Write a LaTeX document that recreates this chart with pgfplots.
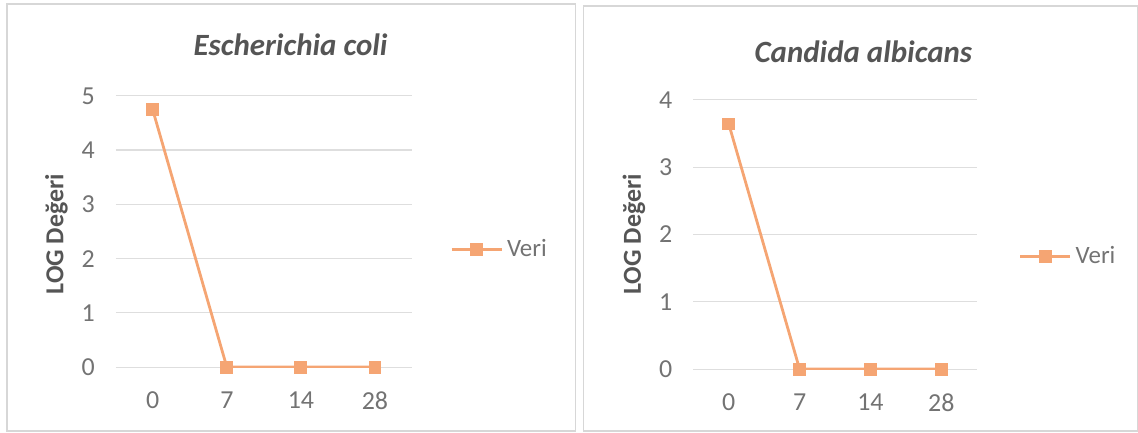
\documentclass[border=0pt]{standalone}
\usepackage{pgfplots}
\pgfplotsset{compat=1.18}
\usepackage{fontspec}
\setmainfont{Carlito}

\definecolor{veri}{RGB}{245,165,115}
\definecolor{txt}{RGB}{115,115,115}
\definecolor{ttl}{RGB}{85,85,85}
\definecolor{gridc}{RGB}{222,222,222}
\definecolor{frame}{RGB}{215,215,215}

\pgfplotsset{
  panel/.style={
    scale only axis,
    anchor=south west,
    xmin=-0.5, xmax=3.5,
    ymin=0,
    axis line style={draw=none},
    axis x line*=bottom,
    tick style={draw=none},
    xtick={0,1,2,3},
    xticklabels={0,7,14,28},
    ytick distance=1,
    ymajorgrids,
    grid style={gridc, line width=0.6pt},
    ticklabel style={font=\fontsize{13}{15}\selectfont, text=txt},
    /pgf/number format/assume math mode=true,
    xticklabel style={yshift=-9pt},
    yticklabel style={xshift=-7pt},
    title style={font=\fontsize{15.5}{17}\selectfont\bfseries\itshape, text=ttl},
    ylabel={LOG Değeri},
    ylabel style={font=\fontsize{13}{15}\selectfont\bfseries, text=ttl, anchor=center},
    legend style={draw=none, fill=none, font=\fontsize{12.5}{14}\selectfont, text=txt,
      anchor=west, inner sep=0pt},
    legend cell align=left,
    legend image code/.code={
      \draw[mark repeat=2, mark phase=2, #1] plot coordinates {(0pt,0pt) (12.5pt,0pt) (25pt,0pt)};
    },
  },
  veriline/.style={veri, line width=1.4pt, mark=square*, mark size=3pt,
    mark options={fill=veri, draw=veri, line width=0pt}},
}

\begin{document}
\begin{tikzpicture}
  % page size and panel frames (1px = 0.5pt)
  \path (0,0) rectangle (569pt,217pt);
  \draw[frame, line width=0.7pt] (3.5pt,1pt) rectangle (288.5pt,215pt);
  \draw[frame, line width=0.7pt] (292.5pt,1pt) rectangle (570pt,214pt);

  \begin{axis}[panel,
    at={(58pt,33pt)},
    width=148.5pt, height=136pt,
    ymax=5,
    title={Escherichia coli},
    title style={at={(axis description cs:0.59,1.143)}, anchor=center},
    ylabel style={at={(axis description cs:-0.2,0.49)}},
    legend style={at={(axis description cs:1.128,0.434)}},
  ]
    \addplot[veriline] coordinates {(0,4.74) (1,0) (2,0) (3,0)};
    \addlegendentry{Veri}
  \end{axis}

  \begin{axis}[panel,
    at={(347.5pt,32pt)},
    width=142pt, height=135pt,
    ymax=4,
    title={Candida albicans},
    title style={at={(axis description cs:0.6,1.134)}, anchor=center},
    ylabel style={at={(axis description cs:-0.21,0.5)}},
    legend style={at={(axis description cs:1.148,0.419)}},
  ]
    \addplot[veriline] coordinates {(0,3.64) (1,0) (2,0) (3,0)};
    \addlegendentry{Veri}
  \end{axis}
\end{tikzpicture}
\end{document}
